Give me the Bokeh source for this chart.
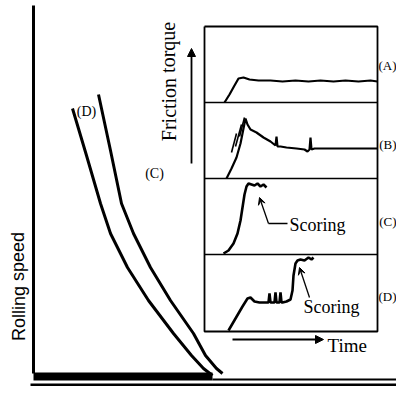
from bokeh.plotting import figure
from bokeh.models import Range1d, Arrow, NormalHead, VeeHead
from bokeh.embed import file_html
from bokeh.resources import INLINE
from bokeh.core.properties import value

# ---------------- data (diagram units, y grows downward) ----------------
# main chart: rolling speed axis and the two speed curves (C) and (D)
speed_axis_x = [33, 33]
speed_axis_y = [5, 373]
curve_D_x = [72, 86, 100, 110, 127, 148, 173, 191, 203, 212]
curve_D_y = [108, 155, 203, 233, 267, 300, 333, 355, 368, 375]
curve_C_x = [98, 110, 121, 133, 150, 170, 193, 205, 216, 222]
curve_C_y = [94, 150, 203, 233, 267, 300, 333, 355, 368, 373]

# time base (scanned heavy baseline)
band_left = [33, 30, 30]
band_right = [212, 412, 160]
band_top = [372, 383, 393]
band_bottom = [380, 393, 399]
thin_x0 = [212, 160]
thin_x1 = [412, 412]
thin_y = [379, 397]

# inset: friction torque traces, panels (A)-(D)
inset_left, inset_right, inset_top, inset_bottom = 204, 377, 26, 331
panel_dividers = [102, 178, 254]

trace_A_x = [224, 229, 234, 238, 243, 249, 258, 270, 282, 295, 308, 320, 333, 345, 358, 370, 377]
trace_A_y = [102, 94, 85, 78, 77, 79, 80, 80, 81, 80, 81, 80, 81, 80, 81, 80, 81]

trace_B_x = [226, 231, 236, 240, 243, 245, 247, 250, 256, 263, 270, 275, 276, 277, 280, 286, 296,
             304, 307, 309, 310, 311, 314, 325, 340, 355, 377]
trace_B_y = [178, 168, 157, 143, 128, 118, 124, 129, 132, 137, 141, 145, 136, 146, 146, 147, 148,
             149, 151, 149, 137, 149, 148, 148, 148, 148, 148]
spike_B_x0 = [231, 235, 239]
spike_B_y0 = [152, 146, 136]
spike_B_x1 = [236, 241, 244]
spike_B_y1 = [133, 124, 117]

trace_C_x = [223, 228, 233, 237, 240, 242, 244, 246, 248, 251, 254, 257, 260, 263, 266]
trace_C_y = [253, 250, 243, 233, 220, 207, 194, 186, 183, 184, 185, 183, 186, 184, 187]

trace_D_x = [228, 235, 242, 247, 250, 254, 259, 264, 268, 269, 270, 271, 274, 275, 276, 277, 279,
             280, 281, 282, 286, 290, 292, 293, 295, 297, 300, 304, 308, 311, 313]
trace_D_y = [330, 318, 306, 298, 297, 301, 302, 302, 302, 293, 302, 302, 302, 292, 302, 302, 302,
             292, 302, 302, 301, 299, 290, 275, 263, 260, 259, 260, 257, 259, 257]

# labels
panel_labels = ["(A)", "(B)", "(C)", "(D)"]
panel_label_x = [396, 396, 396, 396]
panel_label_y = [65, 144, 221, 296]
curve_labels = ["(D)", "(C)"]
curve_label_x = [86, 154]
curve_label_y = [111, 173]

# ---------------- figure ----------------
p = figure(width=396, height=386, x_range=Range1d(0, 396), y_range=Range1d(386, 0),
           x_axis_type=None, y_axis_type=None, output_backend="svg", toolbar_location=None,
           min_border=0, min_border_left=0, min_border_right=0, min_border_top=0,
           min_border_bottom=0)
p.grid.visible = False
p.outline_line_color = None
p.background_fill_color = "white"
p.border_fill_color = "white"

ink = "black"

# main axis and curves
p.line(speed_axis_x, speed_axis_y, line_color=ink, line_width=3)
p.line(curve_D_x, curve_D_y, line_color=ink, line_width=3)
p.line(curve_C_x, curve_C_y, line_color=ink, line_width=3)
p.quad(left=band_left, right=band_right, top=band_top, bottom=band_bottom,
       fill_color=ink, line_color=None)
p.segment(x0=thin_x0, y0=thin_y, x1=thin_x1, y1=thin_y, line_color=ink, line_width=2)

# inset frame
p.line([inset_left, inset_right, inset_right, inset_left, inset_left],
       [inset_top, inset_top, inset_bottom, inset_bottom, inset_top],
       line_color=ink, line_width=1.8)
p.segment(x0=[inset_left] * 3, y0=panel_dividers, x1=[inset_right] * 3, y1=panel_dividers,
          line_color=ink, line_width=1.6)

# traces
p.line(trace_A_x, trace_A_y, line_color=ink, line_width=2.2)
p.line(trace_B_x, trace_B_y, line_color=ink, line_width=2.2)
p.segment(x0=spike_B_x0, y0=spike_B_y0, x1=spike_B_x1, y1=spike_B_y1, line_color=ink, line_width=1.6)
p.line(trace_C_x, trace_C_y, line_color=ink, line_width=2.6)
p.line(trace_D_x, trace_D_y, line_color=ink, line_width=2.6)

# arrows
p.add_layout(Arrow(end=NormalHead(size=8, fill_color=ink, line_color=ink),
                   x_start=191, y_start=163, x_end=191, y_end=48, line_width=1.8, line_color=ink))
p.add_layout(Arrow(end=NormalHead(size=8, fill_color=ink, line_color=ink),
                   x_start=232, y_start=339, x_end=323, y_end=339, line_width=1.8, line_color=ink))
p.add_layout(Arrow(end=VeeHead(size=7, fill_color=ink, line_color=ink),
                   x_start=268, y_start=223, x_end=259, y_end=197, line_width=1.3, line_color=ink))
p.line([268, 287], [223, 223], line_color=ink, line_width=1.3)
p.add_layout(Arrow(end=VeeHead(size=7, fill_color=ink, line_color=ink),
                   x_start=309, y_start=297, x_end=299, y_end=267, line_width=1.3, line_color=ink))

serif = value("Liberation Serif")
# texts
p.text(x=panel_label_x, y=panel_label_y, text=panel_labels, text_font=serif,
       text_font_size="13px", text_align="right", text_baseline="middle", text_color=ink)
p.text(x=curve_label_x, y=curve_label_y, text=curve_labels, text_font=serif,
       text_font_size="14px", text_align="center", text_baseline="middle", text_color=ink)
p.text(x=[289, 303], y=[224, 306], text=["Scoring", "Scoring"], text_font=serif,
       text_font_size="18px", text_align="left", text_baseline="middle", text_color=ink)
p.text(x=[327], y=[345], text=["Time"], text_font=serif, text_font_size="19px",
       text_align="left", text_baseline="middle", text_color=ink)
p.text(x=[168], y=[81], text=["Friction torque"], text_font=serif, text_font_size="20px",
       angle=1.5708, text_align="center", text_baseline="middle", text_color=ink)
p.text(x=[18], y=[286], text=["Rolling speed"], text_font=value("Liberation Sans"),
       text_font_size="18px", angle=1.5708, text_align="center", text_baseline="middle",
       text_color=ink)

open("out.html", "w").write(file_html(p, INLINE))
